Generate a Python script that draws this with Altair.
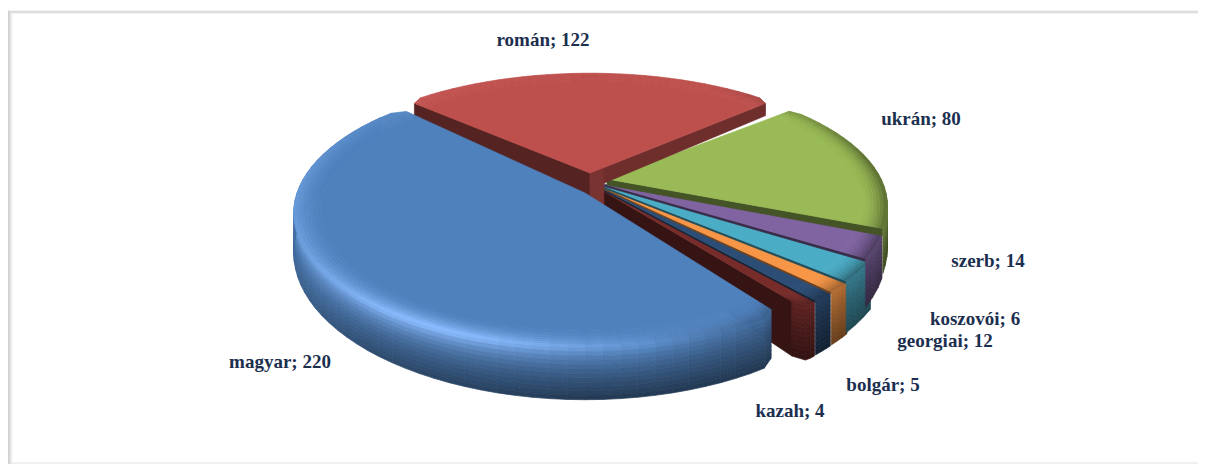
import math
import numpy as np
import altair as alt

# ---- chart data
names = ["magyar", "román", "ukrán", "szerb", "georgiai", "koszovói", "bolgár", "kazah"]
values = [220, 122, 80, 14, 12, 6, 5, 4]
colors = ["#4f81bd", "#bd4f4c", "#99ba56", "#8064a2", "#4bacc6", "#f79646", "#2c4d75", "#772c2a"]

# ---- layout of the exploded perspective pie (page pixels)
apex_x = [585, 590, 607, 604, 603, 602, 601, 600]
apex_y = [193, 173, 179, 184, 186, 187, 188, 189]
radius_x = [288, 280, 274, 276, 282, 284, 284, 284]
radius_y = [131, 121, 121, 121, 121, 121, 121, 121]
persp = [0.15, 0.2124, 0.2124, 0.2124, 0.2124, 0.2124, 0.2124, 0.2124]
corner_start = [0.03, 0.03, 0.015, 0, 0, 0, 0, 0]
corner_end = [0.03, 0.03, 0, 0, 0, 0, 0, 0.04]
turn = [0, -2.5, 0, 0, 0, 0, 0, 0]
wall_start = [0, 1, 0, 0, 0, 0, 0, 0]
wall_end = [0, 0.42, 0.16, 0.06, 0.05, 0.04, 0.04, 1]
label_x = [280, 543, 921, 988, 945, 975, 883, 790]
label_y = [362, 40, 119, 261, 341, 319, 385, 411]
START = -216.0
DEPTH, BEVEL = 38.0, 0.91


def rgb(h):
    return np.array([int(h[i:i + 2], 16) for i in (1, 3, 5)], float)


def tone(base, glow=0.0, black=0.0):
    c = rgb(base) + np.array([150, 150, 170.0]) * glow
    c = np.clip(c * (1 - min(black, 1)), 0, 255)
    return "#%02x%02x%02x" % tuple(int(round(v)) for v in c)


def feature(ring, c):
    ring = [[round(float(x), 2), round(float(y), 2)] for x, y in ring]
    ring.append(ring[0])
    return {"type": "Feature", "geometry": {"type": "Polygon", "coordinates": [ring]},
            "properties": {"c": c}}


def slice_features(i, a0, a1):
    base = colors[i]
    a0, a1 = a0 + turn[i], a1 + turn[i]

    def rounding(a):
        w = min(4.0, (a1 - a0) / 2)
        f = 1.0
        for d, amount in ((a - a0, corner_start[i]), (a1 - a, corner_end[i])):
            x = max(0.0, (w - d) / w)
            f -= amount * (1 - math.sqrt(max(0.0, 1 - x * x)))
        return f

    def P(r, a, depth=0.0):
        rad = math.radians(a)
        rr = r * rounding(a)
        u, v = math.sin(rad), math.cos(rad)
        s = 1 / (1 + persp[i] * rr * v)
        return (apex_x[i] + radius_x[i] * rr * u * s,
                apex_y[i] - radius_y[i] * rr * v * s + DEPTH * depth * s * s)

    n = max(3, int((a1 - a0) / 3))
    angles = list(np.linspace(a0, a1, n + 1))
    walls, sides, bevels = [], [], []
    for a, h in ((a0, wall_start[i]), (a1, wall_end[i])):
        if h:
            shade = 0.42 if (i == 1 and a == a1) else 0.55
            walls.append(feature([P(0, a), P(1, a), P(1, a, h), P(0, a, h)], tone(base, black=shade)))
    if i == 1:
        # the wall column showing at the hub of the pie
        walls.append(feature([P(0, a1), P(0.07, a1), P(0.07, a1, 1), P(0, a1, 1)], tone(base, black=0.36)))
    NS, NB = 12, 8
    for k in range(n):
        b0, b1 = angles[k], angles[k + 1]
        mid = (b0 + b1) / 2
        phi = mid % 360
        cosv = math.cos(math.radians(mid))
        glow = 0.38 * math.exp(-((phi - 205) / 32) ** 2) + 0.16 * math.exp(-((phi - 262) / 45) ** 2)
        side_dark = float(np.interp(phi, [0, 100, 180, 220, 270, 360], [0.6, 0.6, 0.56, 0.42, 0.14, 0.6]))
        edge_dark = min(1, max(0, (phi - 30) / 50)) * min(1, max(0, (170 - phi) / 40)) if phi < 180 else 0
        if cosv <= 0.65:
            for j in range(NS):
                d0, d1 = j / NS, (j + 1) / NS
                d = (d0 + d1) / 2
                col = tone(base, glow=glow * (1 - d) ** 3,
                           black=d ** 0.9 * side_dark + 0.3 * edge_dark * (1 - d))
                sides.append(feature([P(1, b0, d0), P(1, b1, d0), P(1, b1, d1), P(1, b0, d1)], col))
        for j in range(NB):
            t0 = BEVEL + (1 - BEVEL) * j / NB
            t1 = BEVEL + (1 - BEVEL) * (j + 1) / NB
            t = (j + 0.5) / NB
            col = tone(base, glow=glow * t ** 1.6, black=0.42 * edge_dark * t ** 2)
            bevels.append(feature([P(t0, b0), P(t1, b0), P(t1, b1), P(t0, b1)], col))
    face = [P(0, a0)] + [P(BEVEL, a) for a in angles]
    return walls + sides + bevels + [feature(face, base)]


# cumulative angles, clockwise from the magyar slice
total = sum(values)
edges = [START]
for v in values:
    edges.append(edges[-1] + 360.0 * v / total)

features = []
# frame
features.append(feature([(8, 11), (1206, 11), (1206, 13), (8, 13)], "#dedede"))
for j, c in enumerate(["#cfcfcf", "#d6d6d6", "#e2e2e2", "#eeeeee"]):
    features.append(feature([(8 + j, 11 + j), (9 + j, 11 + j), (9 + j, 464), (8 + j, 464)], c))
features.append(feature([(12, 462.5), (1206, 462.5), (1206, 463.5), (12, 463.5)], "#eeeeee"))
# painter order: small slices first, then green, red and finally the big blue one
for i in [7, 6, 5, 4, 3, 2, 1, 0]:
    features.extend(slice_features(i, edges[i], edges[i + 1]))

pie = alt.Chart(alt.Data(values=features)).mark_geoshape(strokeWidth=0.7).encode(
    fill=alt.Fill("properties.c:N", scale=None),
    stroke=alt.Stroke("properties.c:N", scale=None),
).project(type="identity", scale=1, translate=[-8, -8])

rows = [{"text": f"{n}; {v}", "lon": x, "lat": y}
        for n, v, x, y in zip(names, values, label_x, label_y)]
labels = alt.Chart(alt.Data(values=rows)).mark_text(
    font="Liberation Serif", fontWeight="bold", fontSize=19, color="#1c2f4f",
    align="center", baseline="middle",
).encode(longitude="lon:Q", latitude="lat:Q", text="text:N").project(
    type="identity", scale=1, translate=[-8, -8])

chart = alt.layer(pie, labels).properties(
    width=1190, height=456, padding=0, background="white"
).configure_view(stroke=None)

chart.save("out.html", embed_options={"renderer": "svg", "actions": False})
